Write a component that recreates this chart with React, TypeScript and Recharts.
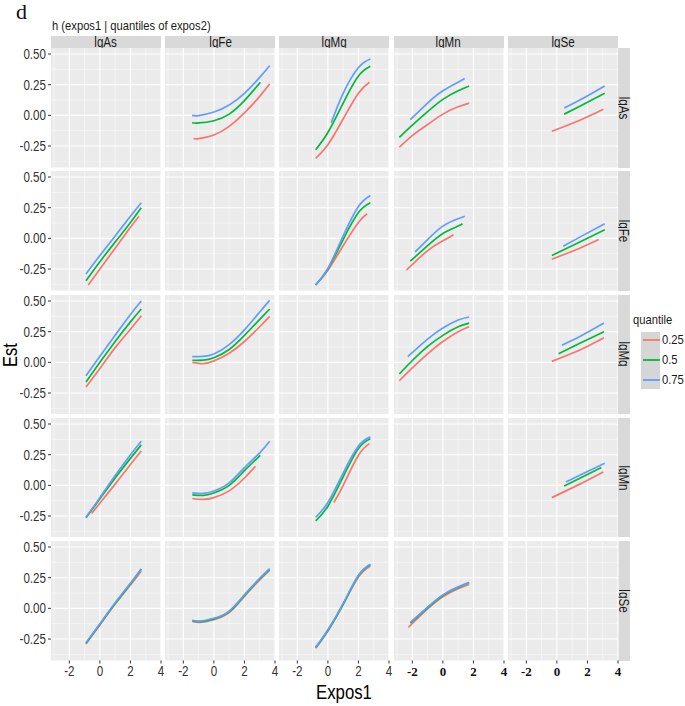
import React from 'react';
import { LineChart, Line, XAxis, YAxis, CartesianGrid, ReferenceLine } from 'recharts';

type Pt = { x: number; q25?: number; q50?: number; q75?: number };

const rowVars = ['lgAs', 'lgFe', 'lgMg', 'lgMn', 'lgSe'];
const colVars = ['lgAs', 'lgFe', 'lgMg', 'lgMn', 'lgSe'];
const quantiles = ['0.25', '0.5', '0.75'];
const qKeys = ['q25', 'q50', 'q75'];
const qColors = ['#F8766D', '#00BA38', '#619CFF'];
const xTicks = [-2, 0, 2, 4];
const yTicks = [-0.25, 0, 0.25, 0.5];
const xMinor = [-3, -1, 1, 3];
const yMinor = [-0.375, -0.125, 0.125, 0.375];

// row lgAs
const asFe: Pt[] = [
  { x: -1.43, q50: -0.06, q75: 0.0 },
  { x: -1.33, q25: -0.188 },
  { x: -1, q25: -0.19, q50: -0.062, q75: -0.002 },
  { x: 0, q25: -0.16, q50: -0.044, q75: 0.027 },
  { x: 1, q25: -0.09, q50: 0.01, q75: 0.085 },
  { x: 2, q25: 0.02, q50: 0.12, q75: 0.18 },
  { x: 3, q25: 0.155, q75: 0.31 },
  { x: 3.04, q50: 0.27 },
  { x: 3.65, q25: 0.255, q75: 0.405 },
];
const asMg: Pt[] = [
  { x: -0.8, q25: -0.35, q50: -0.28 },
  { x: 0, q25: -0.24, q50: -0.14 },
  { x: 0.22, q75: -0.06 },
  { x: 1, q25: -0.03, q50: 0.1, q75: 0.18 },
  { x: 2, q25: 0.18, q50: 0.32, q75: 0.39 },
  { x: 2.72, q25: 0.27 },
  { x: 2.78, q50: 0.4, q75: 0.46 },
];
const asMn: Pt[] = [
  { x: -2.85, q25: -0.26, q50: -0.18 },
  { x: -2.13, q75: -0.035 },
  { x: -2, q25: -0.165, q50: -0.08 },
  { x: -1, q25: -0.075, q50: 0.03, q75: 0.1 },
  { x: 0, q25: 0.01, q50: 0.13, q75: 0.2 },
  { x: 1, q25: 0.07, q50: 0.2, q75: 0.27 },
  { x: 1.43, q75: 0.3 },
  { x: 1.72, q25: 0.1, q50: 0.24 },
];
const asSe: Pt[] = [
  { x: -0.33, q25: -0.13 },
  { x: 0.48, q50: 0.01, q75: 0.06 },
  { x: 1.5, q25: -0.04, q50: 0.075, q75: 0.125 },
  { x: 3.04, q25: 0.05 },
  { x: 3.13, q50: 0.18, q75: 0.24 },
];

// row lgFe
const feAs: Pt[] = [
  { x: -0.91, q50: -0.345, q75: -0.29 },
  { x: -0.76, q25: -0.38 },
  { x: 0, q25: -0.25, q50: -0.19, q75: -0.14 },
  { x: 1, q25: -0.08, q50: -0.03, q75: 0.02 },
  { x: 2, q25: 0.09, q50: 0.13, q75: 0.18 },
  { x: 2.56, q25: 0.18 },
  { x: 2.71, q50: 0.25, q75: 0.29 },
];
const feMg: Pt[] = [
  { x: -0.8, q25: -0.38, q50: -0.38, q75: -0.38 },
  { x: 0, q25: -0.26, q50: -0.25, q75: -0.245 },
  { x: 1, q25: -0.06, q50: -0.01, q75: 0.02 },
  { x: 2, q25: 0.13, q50: 0.21, q75: 0.26 },
  { x: 2.57, q25: 0.2 },
  { x: 2.78, q50: 0.29, q75: 0.35 },
];
const feMn: Pt[] = [
  { x: -2.39, q25: -0.26 },
  { x: -2.13, q50: -0.185 },
  { x: -1.82, q75: -0.11 },
  { x: -1, q25: -0.1, q50: -0.06, q75: -0.01 },
  { x: 0, q25: -0.02, q50: 0.04, q75: 0.1 },
  { x: 0.7, q25: 0.03 },
  { x: 1, q50: 0.1, q75: 0.16 },
  { x: 1.28, q50: 0.12 },
  { x: 1.43, q75: 0.18 },
];
const feSe: Pt[] = [
  { x: -0.33, q25: -0.17, q50: -0.14 },
  { x: 0.41, q75: -0.065 },
  { x: 1.5, q25: -0.08, q50: -0.03, q75: 0.01 },
  { x: 2.74, q25: -0.01 },
  { x: 3.13, q50: 0.07, q75: 0.12 },
];

// row lgMg
const mgAs: Pt[] = [
  { x: -0.91, q25: -0.2, q50: -0.16, q75: -0.11 },
  { x: 0, q25: -0.05, q50: 0.0, q75: 0.05 },
  { x: 1, q25: 0.12, q50: 0.17, q75: 0.22 },
  { x: 2, q25: 0.27, q50: 0.33, q75: 0.39 },
  { x: 2.71, q25: 0.38, q50: 0.435, q75: 0.5 },
];
const mgFe: Pt[] = [
  { x: -1.41, q25: 0.0, q50: 0.017, q75: 0.046 },
  { x: -0.7, q25: -0.01, q50: 0.018, q75: 0.048 },
  { x: 0, q25: 0.012, q50: 0.038, q75: 0.068 },
  { x: 1, q25: 0.075, q50: 0.105, q75: 0.145 },
  { x: 2, q25: 0.17, q50: 0.22, q75: 0.265 },
  { x: 3, q25: 0.29, q50: 0.35, q75: 0.41 },
  { x: 3.65, q25: 0.375, q50: 0.435, q75: 0.505 },
];
const mgMn: Pt[] = [
  { x: -2.85, q25: -0.15, q50: -0.095 },
  { x: -2.3, q75: 0.047 },
  { x: -2, q25: -0.045, q50: 0.015 },
  { x: -1, q25: 0.07, q50: 0.13, q75: 0.19 },
  { x: 0, q25: 0.17, q50: 0.22, q75: 0.28 },
  { x: 1, q25: 0.25, q50: 0.29, q75: 0.345 },
  { x: 1.72, q25: 0.29, q50: 0.32, q75: 0.37 },
];
const mgSe: Pt[] = [
  { x: -0.33, q25: 0.008 },
  { x: 0.11, q50: 0.07 },
  { x: 0.33, q75: 0.14 },
  { x: 1.5, q25: 0.1, q50: 0.155, q75: 0.21 },
  { x: 3.08, q25: 0.2, q50: 0.25, q75: 0.32 },
];

// row lgMn
const mnAs: Pt[] = [
  { x: -0.91, q50: -0.265, q75: -0.26 },
  { x: -0.54, q25: -0.23 },
  { x: 0, q25: -0.145, q50: -0.11, q75: -0.1 },
  { x: 1, q25: 0.01, q50: 0.06, q75: 0.08 },
  { x: 2, q25: 0.17, q50: 0.22, q75: 0.25 },
  { x: 2.71, q25: 0.28, q50: 0.33, q75: 0.36 },
];
const mnFe: Pt[] = [
  { x: -1.41, q25: -0.107, q50: -0.078, q75: -0.062 },
  { x: -0.7, q25: -0.115, q50: -0.082, q75: -0.066 },
  { x: 0, q25: -0.1, q50: -0.062, q75: -0.046 },
  { x: 1, q25: -0.045, q50: 0.0, q75: 0.02 },
  { x: 2, q25: 0.06, q50: 0.12, q75: 0.145 },
  { x: 2.72, q25: 0.155 },
  { x: 3, q75: 0.265 },
  { x: 3.04, q50: 0.245 },
  { x: 3.65, q75: 0.36 },
];
const mnMg: Pt[] = [
  { x: -0.8, q50: -0.29, q75: -0.26 },
  { x: 0, q50: -0.17, q75: -0.14 },
  { x: 0.39, q25: -0.14 },
  { x: 1, q25: 0.0, q50: 0.07, q75: 0.1 },
  { x: 2, q25: 0.245, q50: 0.3, q75: 0.32 },
  { x: 2.72, q25: 0.34 },
  { x: 2.78, q50: 0.38, q75: 0.395 },
];
const mnSe: Pt[] = [
  { x: -0.33, q25: -0.1 },
  { x: 0.48, q50: -0.005 },
  { x: 0.59, q75: 0.027 },
  { x: 1.5, q25: 0.01, q50: 0.058, q75: 0.082 },
  { x: 2.91, q50: 0.145 },
  { x: 3.04, q25: 0.11 },
  { x: 3.13, q75: 0.18 },
];

// row lgSe
const seAs: Pt[] = [
  { x: -0.91, q25: -0.29, q50: -0.285, q75: -0.28 },
  { x: 0, q25: -0.135, q50: -0.13, q75: -0.125 },
  { x: 1, q25: 0.035, q50: 0.04, q75: 0.045 },
  { x: 2, q25: 0.19, q50: 0.2, q75: 0.205 },
  { x: 2.71, q25: 0.305, q50: 0.32, q75: 0.32 },
];
const seFe: Pt[] = [
  { x: -1.41, q25: -0.106, q50: -0.1, q75: -0.097 },
  { x: -0.9, q25: -0.114, q50: -0.108, q75: -0.104 },
  { x: 0, q25: -0.092, q50: -0.086, q75: -0.081 },
  { x: 1, q25: -0.034, q50: -0.027, q75: -0.022 },
  { x: 2, q25: 0.098, q50: 0.106, q75: 0.111 },
  { x: 3, q25: 0.232, q50: 0.24, q75: 0.245 },
  { x: 3.65, q25: 0.31, q50: 0.318, q75: 0.323 },
];
const seMg: Pt[] = [
  { x: -0.8, q25: -0.325, q50: -0.32, q75: -0.318 },
  { x: 0, q25: -0.185, q50: -0.18, q75: -0.175 },
  { x: 1, q25: 0.03, q50: 0.035, q75: 0.04 },
  { x: 2, q25: 0.255, q50: 0.265, q75: 0.27 },
  { x: 2.78, q25: 0.345, q50: 0.355, q75: 0.36 },
];
const seMn: Pt[] = [
  { x: -2.26, q25: -0.155 },
  { x: -2.13, q50: -0.12, q75: -0.115 },
  { x: -1, q25: -0.005, q50: 0.005, q75: 0.01 },
  { x: 0, q25: 0.095, q50: 0.105, q75: 0.11 },
  { x: 1, q25: 0.16, q50: 0.17, q75: 0.175 },
  { x: 1.72, q25: 0.195, q50: 0.21, q75: 0.21 },
];

const panels: (Pt[] | null)[][] = [
  [null, asFe, asMg, asMn, asSe],
  [feAs, null, feMg, feMn, feSe],
  [mgAs, mgFe, null, mgMn, mgSe],
  [mnAs, mnFe, mnMg, null, mnSe],
  [seAs, seFe, seMg, seMn, null],
];

const SANS = '"Liberation Sans", Arial, sans-serif';
const SERIF = '"Liberation Serif", "Times New Roman", serif';
const SQ = 0.83;

const PL = 51, PT = 48, PW = 110, PH = 119.5, DX = 114.2, DY = 123.3;
const YW = 44, XH = 24, PADR = 8, PADT = 8;

const YTick = (p: any) => (
  <text transform={`translate(${p.x},${p.y}) scale(${SQ},1)`} textAnchor="end" dy="0.35em"
    fontSize={14} fontFamily={SANS} fill="#333">
    {Number(p.payload.value).toFixed(2)}
  </text>
);

const XTick = (p: any) => (
  <text transform={`translate(${p.x},${p.y}) scale(${SQ},1)`} textAnchor="middle" dy="0.71em"
    fontSize={14} fontFamily={SANS} fill="#333">
    {p.payload.value}
  </text>
);

const XTickSerif = (p: any) => (
  <text transform={`translate(${p.x},${p.y})`} textAnchor="middle" dy="0.71em"
    fontSize={13} fontWeight="bold" fontFamily={SERIF} fill="#111">
    {p.payload.value}
  </text>
);

const Panel = ({ r, c }: { r: number; c: number }) => {
  const data = panels[r][c] || [];
  const showY = c === 0;
  const showX = r === 4;
  const padT = showY ? PADT : 0;
  const w = PW + (showY ? YW : 0) + (showX ? PADR : 0);
  const h = PH + (showX ? XH : 0) + padT;
  return (
    <div style={{ position: 'absolute', left: PL + c * DX - (showY ? YW : 0), top: PT + r * DY - padT }}>
      <LineChart width={w} height={h} data={data} margin={{ top: padT, right: showX ? PADR : 0, bottom: 0, left: 0 }}>
        <CartesianGrid fill="#EBEBEB" horizontal={false} vertical={false} />
        <XAxis type="number" dataKey="x" domain={[-3.2, 4]} allowDataOverflow ticks={xTicks} interval={0}
          hide={!showX} height={XH} tickSize={3} tickMargin={3} axisLine={false}
          tickLine={{ stroke: '#333' }} tick={c >= 3 ? <XTickSerif /> : <XTick />} />
        <YAxis type="number" domain={[-0.425, 0.549]} allowDataOverflow ticks={yTicks} interval={0}
          hide={!showY} width={YW} tickSize={3} tickMargin={2} axisLine={false}
          tickLine={{ stroke: '#333' }} tick={<YTick />} />
        {xMinor.map((v) => <ReferenceLine key={'xm' + v} x={v} stroke="#FAFAFA" strokeWidth={0.6} />)}
        {yMinor.map((v) => <ReferenceLine key={'ym' + v} y={v} stroke="#FAFAFA" strokeWidth={0.6} />)}
        {xTicks.map((v) => <ReferenceLine key={'x' + v} x={v} stroke="#FFFFFF" strokeWidth={1.1} />)}
        {yTicks.map((v) => <ReferenceLine key={'y' + v} y={v} stroke="#FFFFFF" strokeWidth={1.1} />)}
        {qKeys.map((k, i) => (
          <Line key={k} dataKey={k} type="natural" stroke={qColors[i]} strokeWidth={1.7}
            dot={false} connectNulls isAnimationActive={false} />
        ))}
      </LineChart>
    </div>
  );
};

const sq = (origin: string): React.CSSProperties => ({
  display: 'inline-block', transform: `scaleX(${SQ})`, transformOrigin: origin, whiteSpace: 'nowrap',
});

export default function App() {
  return (
    <div style={{ position: 'absolute', left: 0, top: 0, width: 685, height: 706, background: '#fff', fontFamily: SANS, overflow: 'hidden' }}>
      <div style={{ position: 'absolute', left: 16, top: 1, fontFamily: SERIF, fontSize: 22, lineHeight: '22px', color: '#111' }}>d</div>
      <div style={{ position: 'absolute', left: 52, top: 18, fontSize: 13.5, lineHeight: '15px', color: '#1A1A1A' }}>
        <span style={sq('left center')}>h (expos1 | quantiles of expos2)</span>
      </div>

      {colVars.map((v, c) => (
        <div key={'ts' + v} style={{ position: 'absolute', left: PL + c * DX, top: PT - 12, width: PW, height: 12,
          background: '#D9D9D9', textAlign: 'center', fontSize: 14, lineHeight: '12px', color: '#1A1A1A' }}>
          <span style={sq('center center')}>{v}</span>
        </div>
      ))}

      {rowVars.map((v, r) => (
        <div key={'rs' + v} style={{ position: 'absolute', left: PL + 4 * DX + PW, top: PT + r * DY, width: 12, height: PH,
          background: '#D9D9D9', color: '#1A1A1A', fontSize: 14 }}>
          <span style={{ position: 'absolute', left: '50%', top: '50%', whiteSpace: 'nowrap', lineHeight: '14px',
            transform: `translate(-50%,-50%) rotate(90deg) scale(${SQ},1)` }}>{v}</span>
        </div>
      ))}

      {rowVars.map((_, r) => colVars.map((__, c) => <Panel key={r + '-' + c} r={r} c={c} />))}

      <div style={{ position: 'absolute', left: 10, top: 355, width: 0, height: 0 }}>
        <span style={{ position: 'absolute', left: 0, top: 0, fontSize: 19.5, lineHeight: '20px', whiteSpace: 'nowrap', color: '#000',
          transform: `translate(-50%,-50%) rotate(-90deg) scale(0.85,1)` }}>Est</span>
      </div>
      <div style={{ position: 'absolute', left: 316, top: 681, fontSize: 19.5, lineHeight: '22px', color: '#000' }}>
        <span style={{ ...sq('left center'), transform: 'scaleX(0.86)' }}>Expos1</span>
      </div>

      <div style={{ position: 'absolute', left: 633, top: 313, fontSize: 13.5, lineHeight: '14px', color: '#1A1A1A' }}>
        <span style={sq('left center')}>quantile</span>
      </div>
      <div style={{ position: 'absolute', left: 641, top: 332, width: 19, height: 57, background: '#D6D6D6' }}>
        <svg width={19} height={57} style={{ display: 'block' }}>
          {qColors.map((col, i) => (
            <line key={col} x1={2} x2={19} y1={8 + i * 20} y2={8 + i * 20} stroke={col} strokeWidth={1.8} />
          ))}
        </svg>
      </div>
      {quantiles.map((q, i) => (
        <div key={q} style={{ position: 'absolute', left: 662, top: 333 + i * 20, fontSize: 13.5, lineHeight: '14px', color: '#1A1A1A' }}>
          <span style={sq('left center')}>{q}</span>
        </div>
      ))}
    </div>
  );
}
